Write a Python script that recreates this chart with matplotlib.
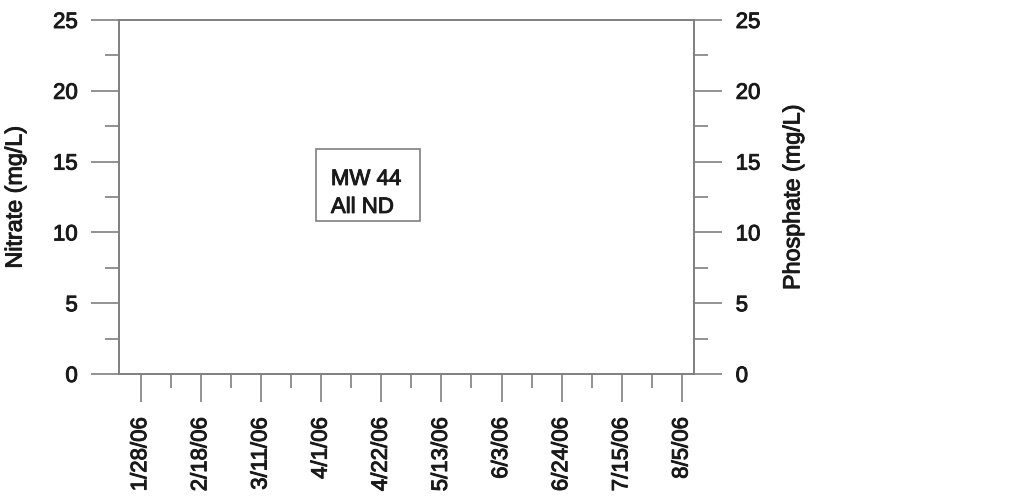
import datetime as dt
import matplotlib
matplotlib.use("Agg")
import matplotlib.pyplot as plt
import matplotlib.dates as mdates
import matplotlib.patheffects as pe
from matplotlib.ticker import MultipleLocator, FixedLocator
from matplotlib.patches import Rectangle

plt.rcParams["font.family"] = ["Liberation Sans", "DejaVu Sans"]

# Sampling dates shown on the x axis (every three weeks)
date_labels = ["1/28/06", "2/18/06", "3/11/06", "4/1/06", "4/22/06",
               "5/13/06", "6/3/06", "6/24/06", "7/15/06", "8/5/06"]
nitrate_range = [0, 25]
phosphate_range = [0, 25]
note_lines = ["MW 44", "All ND"]

dates = [dt.datetime.strptime(s, "%m/%d/%y") for s in date_labels]
xnum = mdates.date2num(dates)
minor_x = [(a + b) / 2 for a, b in zip(xnum[:-1], xnum[1:])]

line_col = "#7f7f7f"
fs = 16
thick = [pe.withStroke(linewidth=0.7, foreground="#1a1a1a")]

fig = plt.figure(figsize=(10.3, 4.96), dpi=100)
ax = fig.add_axes([0.116, 0.246, 0.5578, 0.7137])
ax2 = ax.twinx()

ax.set_xlim(xnum[0] - 7.4, xnum[-1] + 4.2)
ax.set_ylim(*nitrate_range)
ax2.set_ylim(*phosphate_range)

for a in (ax, ax2):
    for sp in a.spines.values():
        sp.set_color(line_col)
        sp.set_linewidth(1.2)
    a.yaxis.set_major_locator(MultipleLocator(5))
    a.yaxis.set_minor_locator(MultipleLocator(2.5))
    a.tick_params(axis="y", which="major", direction="out", length=20,
                  width=1.2, color=line_col, labelsize=fs, pad=10,
                  labelcolor="#1a1a1a")
    a.tick_params(axis="y", which="minor", direction="out", length=10,
                  width=1.2, color=line_col)

ax.xaxis.set_major_locator(FixedLocator(xnum))
ax.xaxis.set_minor_locator(FixedLocator(minor_x))
ax.set_xticklabels(date_labels, rotation=90, fontsize=fs)
ax.tick_params(axis="x", which="major", direction="out", length=20,
               width=1.2, color=line_col, pad=11, labelcolor="#1a1a1a")
ax.tick_params(axis="x", which="minor", direction="out", length=10,
               width=1.2, color=line_col)

ax.set_ylabel("Nitrate (mg/L)", fontsize=16.8, labelpad=19, color="#1a1a1a")
ax2.set_ylabel("Phosphate (mg/L)", fontsize=16.8, labelpad=15, color="#1a1a1a")

# Annotation box
ax.add_patch(Rectangle((0.342, 0.432), 0.181, 0.204, transform=ax.transAxes,
                       facecolor="white", edgecolor=line_col, linewidth=1.2,
                       zorder=3))
ax.text(0.368, 0.534, note_lines[0], transform=ax.transAxes, fontsize=fs,
        va="baseline", ha="left", zorder=4, color="#1a1a1a")
ax.text(0.368, 0.455, note_lines[1], transform=ax.transAxes, fontsize=fs,
        va="baseline", ha="left", zorder=4, color="#1a1a1a")

# Slightly heavier glyphs for all text
for t in fig.findobj(matplotlib.text.Text):
    t.set_path_effects(thick)

fig.savefig("out.png", dpi=100)
